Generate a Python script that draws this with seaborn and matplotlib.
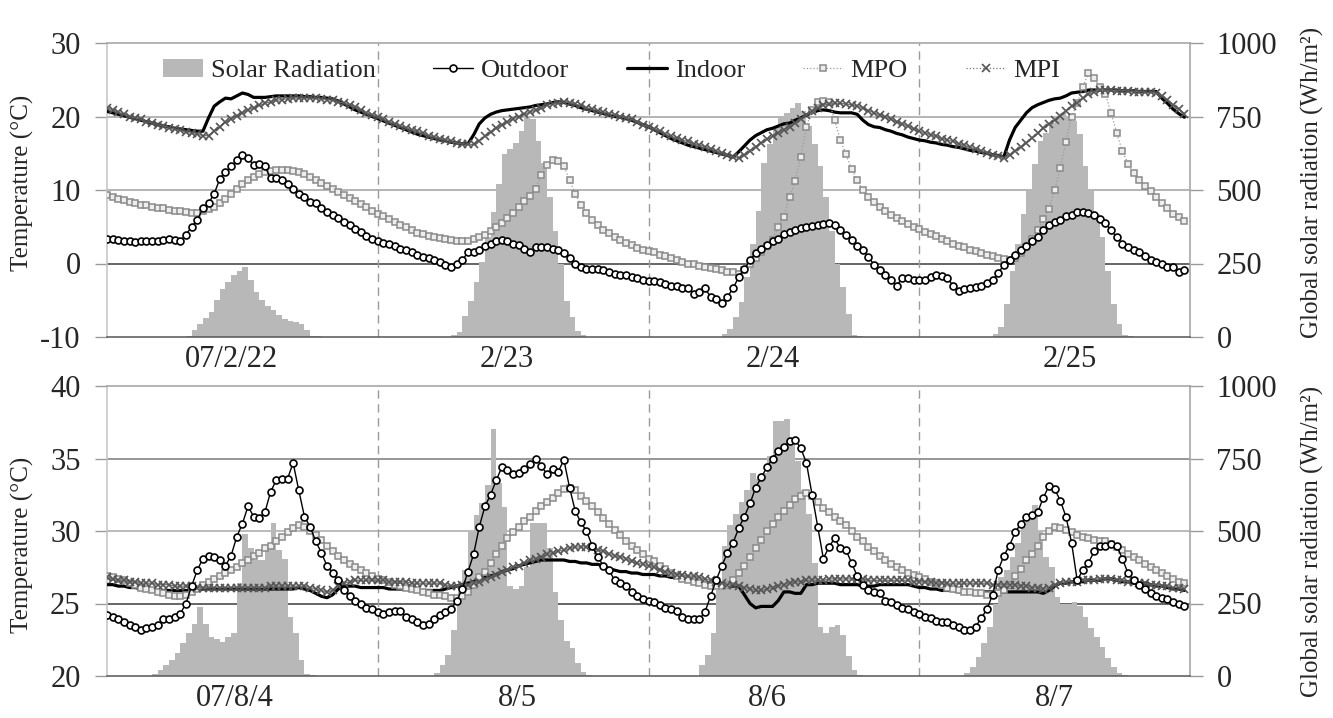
import numpy as np
import matplotlib
matplotlib.use("Agg")
import matplotlib.pyplot as plt
import seaborn as sns
from matplotlib.lines import Line2D
from matplotlib.patches import Patch

# half-hourly readings, 48 per day, 4 days per panel
feb_days = ["07/2/22", "2/23", "2/24", "2/25"]
aug_days = ["07/8/4", "8/5", "8/6", "8/7"]

feb_solar = [
    0, 0, 0, 0, 0, 0, 0, 0, 0, 0, 0, 0,
    0, 0, 5, 25, 45, 65, 84, 127, 163, 187, 212, 223,
    238, 193, 152, 127, 107, 91, 76, 62, 56, 50, 45, 25,
    5, 2, 0, 0, 0, 0, 0, 0, 0, 0, 0, 0,
    0, 0, 0, 0, 0, 0, 0, 0, 0, 0, 0, 0,
    0, 6, 17, 70, 124, 186, 254, 339, 424, 520, 621, 640,
    660, 700, 745, 740, 667, 593, 475, 362, 249, 124, 68, 20,
    6, 0, 0, 0, 0, 0, 0, 0, 0, 0, 0, 0,
    0, 0, 0, 0, 0, 0, 0, 0, 0, 0, 0, 0,
    0, 9, 28, 68, 119, 203, 316, 429, 593, 655, 712, 746,
    763, 780, 797, 768, 718, 655, 582, 475, 362, 249, 170, 79,
    6, 2, 0, 0, 0, 0, 0, 0, 0, 0, 0, 0,
    0, 0, 0, 0, 0, 0, 0, 0, 0, 0, 0, 0,
    0, 9, 34, 113, 226, 316, 418, 497, 588, 667, 695, 729,
    751, 763, 751, 734, 689, 582, 497, 418, 339, 226, 113, 45,
    6, 2, 0, 0, 0, 0, 0, 0, 0, 0, 0, 0,
]
feb_outdoor = [
    3.3, 3.3, 3.2, 3.1, 3.0, 2.9, 3.1, 3.0, 3.0, 3.0, 3.2, 3.3,
    3.2, 3.1, 3.9, 5.0, 5.9, 7.5, 8.2, 9.5, 11.5, 12.5, 13.2, 14.1,
    14.8, 14.3, 13.4, 13.6, 13.2, 11.6, 11.6, 11.4, 10.8, 10.2, 9.5, 9.1,
    8.4, 8.2, 7.5, 7.0, 6.6, 6.2, 5.7, 5.2, 4.7, 4.3, 3.7, 3.3,
    3.0, 2.8, 2.7, 2.4, 2.0, 1.8, 1.5, 1.1, 0.9, 0.8, 0.5, 0.2,
    -0.2, -0.5, 0.0, 0.5, 1.5, 1.6, 1.8, 2.4, 2.7, 3.0, 3.2, 3.0,
    2.7, 2.5, 2.0, 1.5, 2.2, 2.3, 2.2, 2.0, 1.8, 1.4, 0.7, 0.0,
    -0.5, -0.7, -0.7, -0.8, -0.9, -1.1, -1.4, -1.5, -1.6, -1.8, -2.0, -2.2,
    -2.4, -2.4, -2.5, -2.8, -3.0, -3.1, -3.4, -3.4, -4.1, -3.9, -3.4, -4.5,
    -4.8, -5.4, -4.5, -3.4, -1.8, -0.8, 0.5, 1.4, 2.0, 2.5, 3.0, 3.4,
    4.0, 4.3, 4.5, 4.8, 4.9, 5.1, 5.2, 5.4, 5.5, 5.2, 4.6, 3.9,
    3.2, 2.4, 1.8, 0.9, -0.2, -0.9, -1.6, -2.3, -3.0, -2.0, -2.0, -2.2,
    -2.2, -2.2, -1.8, -1.6, -1.7, -2.0, -3.0, -3.7, -3.5, -3.4, -3.2, -3.0,
    -2.7, -2.3, -1.3, -0.2, 0.5, 1.1, 1.8, 2.4, 3.0, 3.6, 4.5, 5.2,
    5.7, 5.9, 6.4, 6.6, 7.0, 7.0, 6.9, 6.6, 6.1, 5.5, 4.5, 3.6,
    2.7, 2.3, 1.8, 1.5, 1.0, 0.5, 0.2, 0.0, -0.5, -0.5, -1.2, -0.9,
]
feb_indoor = [
    20.7, 20.5, 20.3, 20.1, 19.9, 19.7, 19.5, 19.3, 19.1, 18.9, 18.7, 18.6,
    18.4, 18.3, 18.2, 18.1, 18.0, 18.0, 19.8, 21.4, 22.0, 22.5, 22.4, 22.8,
    23.2, 23.0, 22.6, 22.6, 22.6, 22.7, 22.8, 22.8, 22.8, 22.8, 22.8, 22.7,
    22.7, 22.6, 22.6, 22.5, 22.4, 22.1, 21.7, 21.3, 20.9, 20.6, 20.3, 20.0,
    19.7, 19.4, 19.1, 18.8, 18.5, 18.2, 17.9, 17.6, 17.4, 17.2, 17.0, 16.8,
    16.7, 16.5, 16.4, 16.3, 16.3, 17.5, 19.0, 19.8, 20.3, 20.6, 20.8, 20.9,
    21.0, 21.1, 21.2, 21.3, 21.5, 21.6, 21.7, 21.9, 22.0, 21.9, 21.7, 21.5,
    21.2, 21.0, 20.8, 20.6, 20.4, 20.2, 20.0, 19.9, 19.7, 19.5, 19.2, 18.9,
    18.6, 18.2, 17.8, 17.4, 17.0, 16.7, 16.4, 16.1, 15.9, 15.7, 15.5, 15.3,
    15.1, 14.9, 14.7, 14.5, 15.2, 16.0, 16.8, 17.4, 17.8, 18.2, 18.4, 18.7,
    19.0, 19.1, 19.5, 19.8, 20.2, 20.5, 20.8, 20.9, 20.8, 20.6, 20.5, 20.5,
    20.5, 20.3, 19.5, 18.9, 18.6, 18.5, 18.2, 18.0, 17.7, 17.5, 17.2, 17.0,
    16.8, 16.7, 16.5, 16.4, 16.2, 16.1, 15.9, 15.8, 15.6, 15.4, 15.3, 15.1,
    15.0, 14.8, 14.7, 14.5, 16.8, 18.5, 19.5, 20.5, 21.2, 21.6, 21.9, 22.2,
    22.4, 22.5, 22.8, 23.2, 23.3, 23.4, 23.6, 23.6, 23.6, 23.6, 23.6, 23.6,
    23.5, 23.5, 23.5, 23.4, 23.4, 23.4, 23.4, 22.5, 21.8, 21.0, 20.4, 19.9,
]
feb_mpo = [
    9.3, 9.0, 8.8, 8.6, 8.4, 8.2, 8.0, 7.9, 7.7, 7.6, 7.5, 7.3,
    7.2, 7.1, 7.0, 6.9, 6.9, 7.1, 7.4, 7.7, 8.2, 8.8, 9.5, 10.2,
    10.8, 11.3, 11.8, 12.2, 12.4, 12.6, 12.7, 12.7, 12.7, 12.6, 12.5, 12.2,
    11.8, 11.4, 11.0, 10.5, 10.1, 9.7, 9.3, 8.9, 8.5, 8.1, 7.7, 7.2,
    6.8, 6.4, 6.0, 5.6, 5.2, 4.9, 4.5, 4.2, 4.0, 3.8, 3.6, 3.5,
    3.3, 3.2, 3.1, 3.1, 3.1, 3.3, 3.6, 3.9, 4.4, 4.9, 5.5, 6.2,
    6.9, 7.7, 8.5, 9.2, 10.2, 12.0, 13.4, 14.1, 13.9, 13.2, 11.4, 9.5,
    8.0, 6.9, 5.9, 5.2, 4.6, 4.1, 3.6, 3.2, 2.8, 2.5, 2.1, 1.9,
    1.7, 1.5, 1.2, 1.0, 0.7, 0.5, 0.2, 0.0, -0.1, -0.3, -0.5, -0.6,
    -0.8, -0.9, -1.1, -1.2, -1.4, -0.9, 0.0, 0.8, 1.6, 2.4, 3.2, 5.0,
    6.3, 9.0, 11.2, 14.5, 18.6, 20.9, 22.0, 22.1, 22.0, 19.5, 16.8, 14.9,
    12.8, 11.4, 10.0, 9.0, 8.3, 7.7, 7.1, 6.6, 6.2, 5.8, 5.4, 5.0,
    4.7, 4.3, 4.0, 3.7, 3.4, 3.1, 2.7, 2.4, 2.2, 1.9, 1.7, 1.4,
    1.2, 1.0, 0.8, 0.6, 0.5, 0.8, 1.4, 2.3, 3.4, 4.6, 6.0, 7.4,
    10.0, 13.0, 16.5, 20.0, 21.8, 24.0, 25.9, 25.2, 24.0, 23.0, 20.5, 17.8,
    15.3, 13.6, 12.3, 11.3, 10.6, 9.8, 9.0, 8.2, 7.5, 6.8, 6.3, 5.8,
]
feb_mpi = [
    21.2, 20.9, 20.6, 20.3, 20.0, 19.8, 19.6, 19.3, 19.1, 18.9, 18.7, 18.5,
    18.3, 18.1, 17.9, 17.7, 17.6, 17.4, 17.4, 18.0, 18.6, 19.2, 19.7, 20.1,
    20.5, 20.9, 21.2, 21.5, 21.8, 22.0, 22.2, 22.3, 22.4, 22.5, 22.5, 22.5,
    22.5, 22.5, 22.4, 22.3, 22.2, 22.0, 21.8, 21.6, 21.3, 20.9, 20.5, 20.2,
    20.0, 19.6, 19.3, 19.0, 18.7, 18.5, 18.2, 18.0, 17.7, 17.4, 17.2, 17.0,
    16.8, 16.6, 16.4, 16.3, 16.2, 16.2, 16.7, 17.3, 17.9, 18.4, 18.9, 19.3,
    19.7, 20.0, 20.3, 20.6, 20.9, 21.2, 21.5, 21.7, 21.9, 22.0, 21.9, 21.7,
    21.5, 21.2, 21.0, 20.8, 20.6, 20.4, 20.2, 20.0, 19.8, 19.6, 19.3, 18.9,
    18.6, 18.3, 18.0, 17.6, 17.3, 17.1, 16.8, 16.6, 16.3, 16.1, 15.9, 15.6,
    15.3, 15.0, 14.7, 14.5, 14.3, 14.7, 15.3, 15.9, 16.4, 16.9, 17.3, 17.8,
    18.2, 18.6, 19.1, 19.7, 20.2, 20.7, 21.2, 21.6, 21.7, 21.8, 21.8, 21.7,
    21.6, 21.4, 21.2, 20.8, 20.5, 20.2, 19.9, 19.6, 19.3, 19.0, 18.7, 18.3,
    18.0, 17.8, 17.5, 17.3, 17.0, 16.8, 16.6, 16.3, 16.1, 15.8, 15.6, 15.3,
    15.1, 14.8, 14.6, 14.3, 14.8, 15.3, 15.8, 16.4, 17.1, 17.7, 18.4, 19.0,
    19.5, 20.1, 20.8, 21.4, 21.9, 22.5, 23.0, 23.4, 23.6, 23.6, 23.6, 23.5,
    23.5, 23.5, 23.4, 23.4, 23.3, 23.3, 23.2, 22.8, 22.3, 21.6, 21.0, 20.4,
]

aug_solar = [
    0, 0, 0, 0, 0, 0, 0, 0, 7, 21, 38, 55,
    80, 113, 147, 181, 237, 181, 135, 126, 118, 135, 147, 319,
    491, 440, 400, 400, 445, 526, 434, 405, 204, 147, 55, 7,
    2, 0, 0, 0, 0, 0, 0, 0, 0, 0, 0, 0,
    0, 0, 0, 0, 0, 0, 0, 0, 0, 0, 9, 38,
    72, 159, 251, 366, 498, 555, 595, 659, 851, 664, 584, 310,
    300, 310, 377, 526, 526, 526, 440, 290, 193, 120, 95, 44,
    15, 5, 0, 0, 0, 0, 0, 0, 0, 0, 0, 0,
    0, 0, 0, 0, 0, 0, 0, 0, 0, 38, 72, 147,
    296, 450, 520, 560, 600, 640, 700, 680, 700, 760, 880, 880,
    885, 800, 740, 640, 560, 390, 170, 150, 170, 175, 140, 70,
    20, 5, 0, 0, 0, 0, 0, 0, 0, 0, 0, 0,
    0, 0, 0, 0, 0, 0, 0, 0, 10, 30, 67, 113,
    170, 250, 342, 365, 411, 457, 514, 549, 589, 503, 411, 376,
    273, 250, 250, 255, 240, 204, 164, 135, 101, 61, 30, 10,
    5, 0, 0, 0, 0, 0, 0, 0, 0, 0, 0, 0,
]
aug_outdoor = [
    24.2, 24.1, 23.9, 23.7, 23.5, 23.4, 23.2, 23.3, 23.4, 23.5, 23.9, 23.9,
    24.1, 24.3, 25.0, 26.2, 27.3, 28.1, 28.3, 28.2, 28.0, 27.6, 28.3, 29.6,
    30.5, 31.7, 31.0, 30.9, 31.3, 32.7, 33.5, 33.6, 33.6, 34.7, 32.8, 31.0,
    30.3, 29.3, 28.5, 27.6, 27.1, 26.6, 25.9, 25.5, 25.2, 25.0, 24.7, 24.6,
    24.4, 24.3, 24.4, 24.5, 24.5, 24.1, 23.9, 23.7, 23.5, 23.6, 23.9, 24.2,
    24.4, 24.6, 25.2, 26.0, 27.2, 28.4, 30.3, 31.7, 32.5, 33.5, 34.4, 34.2,
    33.9, 34.0, 34.3, 34.6, 35.0, 34.5, 33.9, 34.3, 34.1, 34.9, 33.0, 31.4,
    30.6, 30.0, 29.0, 28.2, 27.6, 27.3, 26.6, 26.4, 26.2, 25.8, 25.5, 25.3,
    25.2, 25.1, 24.9, 24.7, 24.6, 24.5, 24.1, 23.9, 23.9, 23.9, 24.4, 25.5,
    26.6, 27.6, 28.5, 29.2, 30.2, 31.0, 31.9, 33.0, 33.7, 34.4, 35.0, 35.5,
    35.8, 36.2, 36.3, 35.7, 34.7, 32.5, 30.3, 28.1, 28.9, 29.5, 28.8, 28.7,
    27.8, 26.9, 26.3, 25.9, 25.8, 25.7, 25.2, 25.1, 24.9, 24.7, 24.6, 24.4,
    24.3, 24.1, 24.0, 23.8, 23.7, 23.7, 23.5, 23.4, 23.2, 23.2, 23.4, 24.0,
    24.6, 25.6, 27.3, 28.3, 29.0, 29.9, 30.5, 31.0, 31.1, 31.3, 32.3, 33.1,
    32.9, 32.1, 31.0, 29.2, 26.6, 27.3, 27.8, 28.6, 29.0, 29.0, 29.1, 29.0,
    28.1, 27.1, 26.6, 26.3, 26.0, 25.7, 25.5, 25.4, 25.3, 25.1, 25.0, 24.8,
]
aug_indoor = [
    26.3, 26.3, 26.2, 26.2, 26.1, 26.1, 26.0, 26.0, 25.9, 25.9, 25.9, 25.9,
    25.9, 25.9, 25.9, 25.9, 25.9, 26.0, 26.0, 26.0, 26.0, 26.0, 26.0, 26.0,
    26.0, 26.0, 26.0, 26.0, 26.0, 26.0, 26.0, 26.0, 26.0, 26.0, 26.1, 26.0,
    25.9, 25.7, 25.5, 25.4, 25.6, 26.0, 26.2, 26.2, 26.2, 26.1, 26.1, 26.1,
    26.1, 26.1, 26.0, 26.0, 26.0, 26.0, 25.9, 25.9, 25.9, 25.9, 25.9, 25.9,
    26.0, 26.1, 26.2, 26.3, 26.4, 26.5, 26.7, 26.8, 26.9, 27.0, 27.2, 27.3,
    27.4, 27.6, 27.7, 27.8, 27.9, 28.0, 28.0, 28.0, 28.0, 28.0, 27.9, 27.9,
    27.8, 27.8, 27.7, 27.7, 27.6, 27.4, 27.3, 27.2, 27.2, 27.1, 27.1, 27.0,
    27.0, 27.0, 26.9, 26.9, 26.8, 26.8, 26.7, 26.6, 26.6, 26.5, 26.4, 26.4,
    26.3, 26.3, 26.2, 26.2, 26.2, 25.6, 25.0, 24.7, 24.8, 24.8, 24.8, 25.2,
    25.8, 25.8, 25.7, 25.7, 26.3, 26.3, 26.4, 26.4, 26.4, 26.4, 26.3, 26.3,
    26.3, 26.3, 26.2, 26.2, 26.2, 26.3, 26.3, 26.3, 26.3, 26.3, 26.3, 26.2,
    26.1, 26.1, 26.0, 26.0, 25.9, 25.9, 25.9, 25.8, 25.8, 25.8, 25.8, 25.8,
    25.8, 25.8, 25.8, 25.8, 25.8, 25.8, 25.8, 25.8, 25.8, 25.8, 25.7, 25.9,
    26.2, 26.4, 26.4, 26.5, 26.5, 26.5, 26.6, 26.6, 26.6, 26.7, 26.7, 26.6,
    26.5, 26.5, 26.4, 26.4, 26.4, 26.3, 26.2, 26.2, 26.1, 26.0, 26.0, 25.9,
]
aug_mpo = [
    26.9, 26.8, 26.7, 26.6, 26.4, 26.3, 26.1, 26.0, 25.9, 25.8, 25.7, 25.6,
    25.5, 25.5, 25.6, 25.8, 26.0, 26.3, 26.5, 26.7, 26.9, 27.1, 27.3, 27.5,
    27.8, 28.0, 28.3, 28.5, 28.8, 29.0, 29.3, 29.6, 29.9, 30.2, 30.4, 30.3,
    30.0, 29.7, 29.4, 29.0, 28.6, 28.3, 28.0, 27.7, 27.5, 27.3, 27.1, 26.9,
    26.7, 26.6, 26.5, 26.3, 26.2, 26.1, 26.0, 25.9, 25.8, 25.7, 25.6, 25.6,
    25.5, 25.4, 25.4, 25.5, 25.8, 26.3, 26.8, 27.2, 27.8, 28.4, 29.0, 29.5,
    29.9, 30.3, 30.7, 31.0, 31.4, 31.7, 32.0, 32.3, 32.6, 32.9, 33.0, 32.8,
    32.4, 32.1, 31.7, 31.3, 30.9, 30.5, 30.1, 29.7, 29.3, 29.0, 28.7, 28.4,
    28.1, 27.9, 27.6, 27.4, 27.1, 26.9, 26.7, 26.6, 26.5, 26.4, 26.3, 26.2,
    26.2, 26.2, 26.3, 26.6, 27.1, 27.6, 28.2, 28.8, 29.4, 30.0, 30.5, 31.0,
    31.4, 31.8, 32.2, 32.4, 32.6, 32.4, 32.0, 31.6, 31.3, 31.0, 30.7, 30.4,
    30.0, 29.6, 29.3, 28.9, 28.6, 28.3, 28.0, 27.7, 27.5, 27.3, 27.1, 27.0,
    26.8, 26.7, 26.5, 26.4, 26.3, 26.1, 26.0, 25.9, 25.8, 25.8, 25.7, 25.7,
    25.6, 25.6, 25.7, 25.9, 26.3, 26.9, 27.4, 28.0, 28.4, 29.0, 29.6, 30.0,
    30.3, 30.2, 30.1, 29.9, 29.7, 29.6, 29.5, 29.4, 29.3, 29.3, 29.1, 28.9,
    28.7, 28.4, 28.2, 28.0, 27.7, 27.5, 27.3, 27.1, 26.9, 26.7, 26.5, 26.4,
]
aug_mpi = [
    26.8, 26.7, 26.6, 26.6, 26.5, 26.5, 26.4, 26.4, 26.4, 26.3, 26.3, 26.3,
    26.2, 26.2, 26.2, 26.2, 26.1, 26.1, 26.1, 26.1, 26.1, 26.1, 26.1, 26.1,
    26.1, 26.1, 26.1, 26.1, 26.1, 26.2, 26.2, 26.2, 26.2, 26.2, 26.2, 26.2,
    26.1, 26.0, 25.9, 25.8, 25.9, 26.2, 26.4, 26.5, 26.6, 26.6, 26.6, 26.6,
    26.6, 26.6, 26.5, 26.5, 26.5, 26.5, 26.4, 26.4, 26.4, 26.4, 26.4, 26.4,
    26.3, 26.2, 26.2, 26.3, 26.3, 26.4, 26.5, 26.7, 26.8, 27.0, 27.2, 27.3,
    27.5, 27.6, 27.8, 28.0, 28.1, 28.2, 28.4, 28.5, 28.6, 28.7, 28.8, 28.9,
    28.9, 28.9, 28.8, 28.7, 28.6, 28.4, 28.3, 28.2, 28.1, 27.9, 27.8, 27.7,
    27.6, 27.5, 27.3, 27.2, 27.1, 27.0, 27.0, 26.9, 26.9, 26.8, 26.7, 26.6,
    26.5, 26.4, 26.3, 26.3, 26.2, 26.1, 26.0, 25.9, 25.9, 26.0, 26.1, 26.2,
    26.3, 26.4, 26.5, 26.5, 26.6, 26.6, 26.6, 26.6, 26.7, 26.7, 26.7, 26.7,
    26.7, 26.7, 26.7, 26.6, 26.6, 26.6, 26.6, 26.6, 26.6, 26.6, 26.6, 26.5,
    26.5, 26.5, 26.5, 26.4, 26.4, 26.4, 26.4, 26.4, 26.4, 26.4, 26.4, 26.4,
    26.4, 26.3, 26.3, 26.3, 26.3, 26.3, 26.2, 26.2, 26.1, 26.1, 26.0, 26.1,
    26.3, 26.4, 26.5, 26.5, 26.5, 26.6, 26.6, 26.6, 26.7, 26.7, 26.7, 26.6,
    26.6, 26.5, 26.5, 26.4, 26.4, 26.3, 26.3, 26.2, 26.2, 26.1, 26.1, 26.0,
]

# layout
FEB_LABEL_POS = [22.0, 70.8, 118.1, 170.7]
AUG_LABEL_POS = [22.6, 72.8, 117.0, 168.0]
SOLAR_GRAY = "#b8b8b8"
TICK_FS = 22
LABEL_FS = 18
LEGEND_FS = 19

sns.set_theme(style="white")
plt.rcParams["font.family"] = ["Liberation Serif", "DejaVu Serif"]
plt.rcParams["axes.unicode_minus"] = False

fig = plt.figure(figsize=(13.33, 7.18), dpi=100)
W, H = 1333, 718

OUT_KW = dict(color="black", lw=1.0, marker="o", ms=5.0, mfc="white", mec="black", mew=1.2)
IN_KW = dict(color="black", lw=2.3)
MPO_KW = dict(color="#9a9a9a", lw=0.9, ls=":", marker="s", ms=4.8, mfc="#eeeeee",
              mec="#8a8a8a", mew=1.1)
MPI_KW = dict(color="#777777", lw=0.9, marker="x", ms=6.0, mec="#555555", mew=1.2)


def px_axes(left, top, right, bottom):
    return fig.add_axes([left / W, 1 - bottom / H, (right - left) / W, (bottom - top) / H])


def draw_panel(ax, solar, outdoor, indoor, mpo, mpi, tlim, days, label_pos, grid_cols):
    steps = np.arange(len(solar))
    ax2 = ax.twinx()
    ax.set_zorder(ax2.get_zorder() + 1)
    ax.patch.set_visible(False)

    # gridlines behind the bars
    for lvl, col in zip([250, 500, 750], grid_cols):
        ax2.axhline(lvl, color=col, lw=1.1, zorder=0)
    for d in [48, 96, 144]:
        ax2.axvline(d, color="#9a9a9a", lw=1, ls=(0, (6, 4)), zorder=0.5)

    ax2.bar(steps, solar, width=1.0, align="edge", color=SOLAR_GRAY, linewidth=0, zorder=1)

    sns.lineplot(x=steps, y=indoor, ax=ax, zorder=3, **IN_KW)
    sns.lineplot(x=steps, y=mpo, ax=ax, zorder=4, **MPO_KW)
    sns.lineplot(x=steps, y=mpi, ax=ax, zorder=5, **MPI_KW)
    sns.lineplot(x=steps, y=outdoor, ax=ax, zorder=6, **OUT_KW)

    ax.set_xlim(0, 192)
    ax2.set_xlim(0, 192)
    ax.set_ylim(*tlim)
    ax2.set_ylim(0, 1000)
    ticks = np.linspace(tlim[0], tlim[1], 5)
    ax.set_yticks(ticks)
    ax.set_yticklabels([f"{v:g}" for v in ticks])
    ax2.set_yticks([0, 250, 500, 750, 1000])
    ax.set_xticks([0, 48, 96, 144, 192])
    ax.set_xticklabels([])
    ax.set_xticks(label_pos, minor=True)
    ax.set_xticklabels(days, minor=True)
    ax.set_xlabel("")
    ax.set_ylabel("")
    ax2.set_ylabel("")

    ax.tick_params(axis="x", which="major", length=8, width=1, color="#9a9a9a", direction="out")
    ax.tick_params(axis="x", which="minor", length=0, labelsize=TICK_FS, pad=6)
    ax.tick_params(axis="y", length=9, width=1, color="#9a9a9a", direction="out",
                   labelsize=TICK_FS, pad=10)
    ax2.tick_params(axis="y", length=9, width=1, color="#9a9a9a", direction="out",
                    labelsize=TICK_FS, pad=10)

    for s in ax2.spines.values():
        s.set_visible(False)
    ax.spines["left"].set_color("#c4c4c4")
    ax.spines["right"].set_color("#a0a0a0")
    ax.spines["top"].set_color("#a0a0a0")
    ax.spines["bottom"].set_color("#555555")
    for s in ax.spines.values():
        s.set_linewidth(1.1)
    ax.grid(False)
    ax2.grid(False)
    return ax2


ax_top = px_axes(107, 43, 1190, 337)
draw_panel(ax_top, feb_solar, feb_outdoor, feb_indoor, feb_mpo, feb_mpi,
           (-10, 30), feb_days, FEB_LABEL_POS, ["#3c3c3c", "#a0a0a0", "#a0a0a0"])

ax_bot = px_axes(107, 386, 1190, 676)
draw_panel(ax_bot, aug_solar, aug_outdoor, aug_indoor, aug_mpo, aug_mpi,
           (20, 40), aug_days, AUG_LABEL_POS, ["#3c3c3c", "#a8a8a8", "#7a7a7a"])

handles = [
    Patch(facecolor=SOLAR_GRAY, edgecolor="none"),
    Line2D([], [], **OUT_KW),
    Line2D([], [], **IN_KW),
    Line2D([], [], **MPO_KW),
    Line2D([], [], **dict(MPI_KW, ls=":")),
]
ax_top.legend(handles, ["Solar Radiation", "Outdoor", "Indoor", "MPO", "MPI"],
              loc="center", bbox_to_anchor=(0.466, 0.906), ncol=5, frameon=False,
              fontsize=LEGEND_FS, handlelength=1.5, columnspacing=2.2, handletextpad=0.3)

for yc in (183, 545):
    fig.text(22 / W, 1 - yc / H, "Temperature (°C)", rotation=90, ha="center", va="center",
             fontsize=LABEL_FS)
for yc in (182, 541):
    fig.text(1312 / W, 1 - yc / H, "Global solar radiation (Wh/m²)", rotation=90,
             ha="center", va="center", fontsize=LABEL_FS)

fig.savefig("out.png", dpi=100)
